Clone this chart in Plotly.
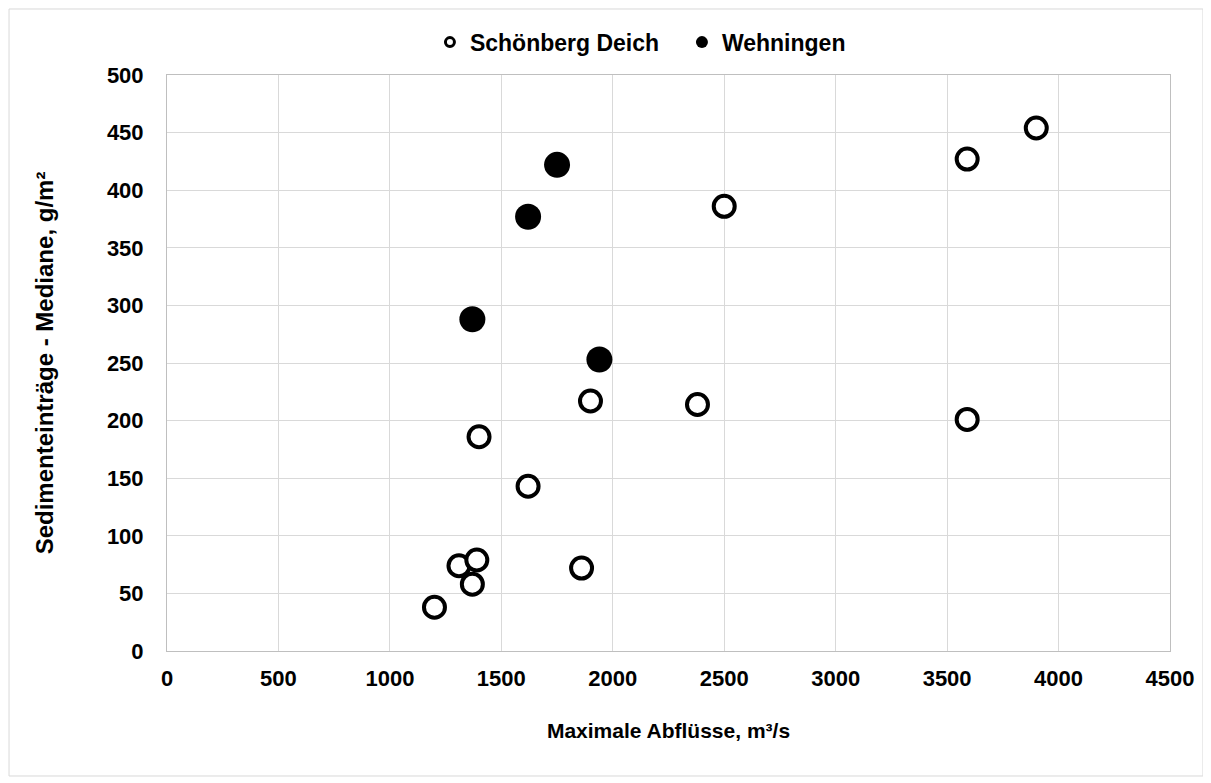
import plotly.graph_objects as go

# Schönberg Deich (open circles)
sch_x = [1200, 1310, 1390, 1370, 1860, 1400, 1620, 1900, 2380, 2500, 3590, 3590, 3900]
sch_y = [38, 74, 79, 58, 72, 186, 143, 217, 214, 386, 201, 427, 454]

# Wehningen (filled circles)
weh_x = [1370, 1620, 1750, 1940]
weh_y = [288, 377, 422, 253]

x_ticks = [0, 500, 1000, 1500, 2000, 2500, 3000, 3500, 4000, 4500]
y_ticks = [0, 50, 100, 150, 200, 250, 300, 350, 400, 450, 500]

FONT = "Liberation Sans, Arial, sans-serif"
GRID = "#d9d9d9"

fig = go.Figure()

fig.add_trace(go.Scatter(
    x=sch_x, y=sch_y, mode="markers", name="Schönberg Deich", showlegend=False,
    marker=dict(symbol="circle", size=21, color="white", line=dict(color="black", width=4)),
))
fig.add_trace(go.Scatter(
    x=weh_x, y=weh_y, mode="markers", name="Wehningen", showlegend=False,
    marker=dict(symbol="circle", size=26, color="black", line=dict(width=0)),
))

# legend-only entries with smaller symbols, as in the original
fig.add_trace(go.Scatter(
    x=[None], y=[None], mode="markers", name="Schönberg Deich",
    marker=dict(symbol="circle", size=9, color="white", line=dict(color="black", width=3)),
))
fig.add_trace(go.Scatter(
    x=[None], y=[None], mode="markers", name="Wehningen",
    marker=dict(symbol="circle", size=12, color="black", line=dict(width=0)),
))

# the page body adds an 8px offset, margins are set to compensate
fig.update_layout(
    width=1211, height=783,
    paper_bgcolor="white", plot_bgcolor="white",
    margin=dict(l=159, r=49, t=67, b=140),
    font=dict(family=FONT, size=20, color="black"),
    showlegend=True,
    legend=dict(
        orientation="h", x=0.5134, xanchor="center", y=1.057, yanchor="middle",
        font=dict(family=FONT, size=23, color="black", weight="bold"),
        itemwidth=30, tracegroupgap=0, entrywidth=207,
    ),
    xaxis=dict(
        range=[0, 4500], tickvals=x_ticks, showgrid=True, gridcolor=GRID, gridwidth=1,
        zeroline=False, showline=True, linecolor="#bfbfbf", linewidth=1, mirror=True,
        ticks="", ticklabelstandoff=8,
        tickfont=dict(family=FONT, size=22, weight="bold"),
        title=dict(text="Maximale Abflüsse, m³/s", standoff=32,
                   font=dict(family=FONT, size=21, weight="bold")),
    ),
    yaxis=dict(
        range=[0, 500], tickvals=y_ticks, showgrid=True, gridcolor=GRID, gridwidth=1,
        zeroline=False, showline=True, linecolor="#bfbfbf", linewidth=1, mirror=True,
        ticks="", ticklabelstandoff=18,
        tickfont=dict(family=FONT, size=22, weight="bold"),
        title=dict(text="Sedimenteinträge - Mediane, g/m²", standoff=46,
                   font=dict(family=FONT, size=24, weight="bold")),
    ),
)

# outer chart frame
fig.add_shape(type="rect", xref="paper", yref="paper",
              x0=-0.1575, x1=1.0329, y0=-0.217, y1=1.1146,
              line=dict(color=GRID, width=1), fillcolor="rgba(0,0,0,0)", layer="below")

fig.write_html("out.html")
